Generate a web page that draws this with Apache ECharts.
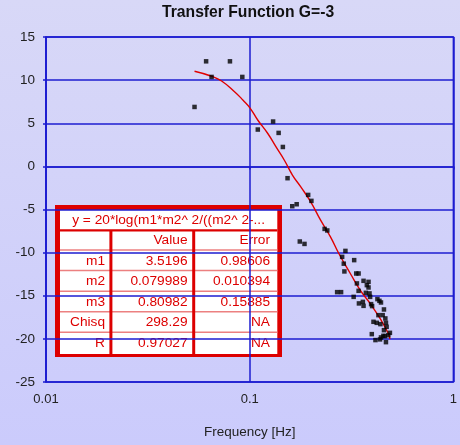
<!DOCTYPE html>
<html>
<head>
<meta charset="utf-8">
<script src="https://cdn.jsdelivr.net/npm/echarts@6/dist/echarts.min.js"></script>
<style>
  html, body { margin: 0; padding: 0; }
  #chart { width: 460px; height: 445px; }
</style>
</head>
<body>
<div id="chart"></div>
<script>
// Measured gain points: frequency in Hz, gain in dB
const measFreq = [
  0.0536, 0.0611, 0.0650, 0.0800, 0.0920, 0.1096, 0.1303, 0.1387, 0.1455, 0.1534,
  0.1618, 0.1701, 0.1762, 0.1858, 0.1937, 0.2009, 0.2333, 0.2404, 0.2951, 0.2844,
  0.3258, 0.2897, 0.2917, 0.3334, 0.3425, 0.3622, 0.3832, 0.3759, 0.3360, 0.3832,
  0.2687, 0.2810, 0.3425, 0.3718, 0.3875, 0.3239, 0.3902, 0.4237, 0.4334, 0.4411,
  0.3594, 0.3438, 0.3622, 0.3945, 0.3990, 0.4562, 0.4285, 0.4496, 0.4634, 0.4053,
  0.4204, 0.4382, 0.4666, 0.4702, 0.3976, 0.4562, 0.4880, 0.4411, 0.4614, 0.4144,
  0.4666, 0.4363, 0.4793, 0.4531
];
const measGain = [
  6.89, 12.18, 10.37, 12.18, 10.37, 4.27, 5.20, 3.88, 2.25, -1.37,
  -4.62, -4.39, -8.71, -8.99, -3.31, -4.00, -7.25, -7.43, -9.80, -10.49,
  -10.87, -11.28, -12.18, -12.42, -12.42, -13.27, -13.39, -13.77, -13.57, -14.04,
  -14.58, -14.58, -14.43, -14.66, -14.73, -15.13, -15.13, -15.39, -15.59, -15.78,
  -15.71, -15.89, -16.17, -15.97, -16.20, -16.59, -17.25, -17.25, -17.63, -18.02,
  -18.14, -18.29, -18.14, -18.60, -19.45, -18.99, -19.30, -19.83, -19.68, -20.14,
  -20.38, -20.06, -19.57, -19.65
];

// Fitted curve samples
const fitFreq = [
  0.0536, 0.0650, 0.0728, 0.0845, 0.0928, 0.1000, 0.1097, 0.1227, 0.1347, 0.1480,
  0.1624, 0.1782, 0.1993, 0.2229, 0.2492, 0.2739, 0.3119, 0.3487, 0.3902, 0.4363,
  0.4793, 0.4880
];
const fitGain = [
  11.03, 10.45, 9.90, 8.63, 7.67, 6.82, 5.35, 3.81, 2.25, 0.71,
  -1.03, -2.38, -4.12, -6.24, -8.17, -10.10, -12.42, -14.35, -15.89, -17.63,
  -19.37, -20.03
];

const xTickLabels = ['0.01', '0.1', '1'];
const titleText = 'Transfer Function G=-3';
const xAxisName = 'Frequency [Hz]';

// Fit result table
const fitFormula = 'y = 20*log(m1*m2^ 2/((m2^ 2-...';
const tableHead = ['', 'Value', 'Error'];
const paramNames = ['m1', 'm2', 'm3', 'Chisq', 'R'];
const paramValues = ['3.5196', '0.079989', '0.80982', '298.29', '0.97027'];
const paramErrors = ['0.98606', '0.010394', '0.15885', 'NA', 'NA'];

const FONT = 'Liberation Sans, Arial, sans-serif';
const BLUE = '#1c1cd0';
const RED = '#dd0000';

function buildTable() {
  const els = [];
  const x0 = 55, y0 = 205, w = 227, h = 152;
  const inX = 60, inY = 210, inW = 217.3, inH = 144;
  const colR = [105, 187.5, 270];
  const rowStep = 20.55;

  els.push({ type: 'rect', shape: { x: x0, y: y0, width: w, height: h }, style: { fill: RED } });
  els.push({ type: 'rect', shape: { x: inX, y: inY, width: inW, height: inH }, style: { fill: '#ffffff' } });
  // header separator
  els.push({ type: 'rect', shape: { x: inX, y: 229.2, width: inW, height: 2.2 }, style: { fill: RED } });
  // row separators
  for (let i = 0; i < paramNames.length; i++) {
    const y = 249.3 + i * rowStep;
    els.push({ type: 'rect', shape: { x: inX, y: y, width: inW, height: 1.5 }, style: { fill: '#ec8080' } });
  }
  // column separators
  els.push({ type: 'rect', shape: { x: 109.4, y: 231, width: 3, height: 123 }, style: { fill: RED } });
  els.push({ type: 'rect', shape: { x: 192.2, y: 231, width: 3, height: 123 }, style: { fill: RED } });

  const txt = (s, x, y, align) => ({
    type: 'text',
    style: { text: s, x: x, y: y, fill: RED, fontSize: 13.7, fontFamily: FONT, align: align, verticalAlign: 'middle' }
  });
  els.push(txt(fitFormula, 168.6, 220, 'center'));
  tableHead.forEach((s, c) => { if (s) els.push(txt(s, colR[c], 240.2, 'right')); });
  paramNames.forEach((name, r) => {
    const y = 240.2 + (r + 1) * rowStep;
    els.push(txt(name, colR[0], y, 'right'));
    els.push(txt(paramValues[r], colR[1], y, 'right'));
    els.push(txt(paramErrors[r], colR[2], y, 'right'));
  });
  return { type: 'group', z: 100, children: els };
}

const chart = echarts.init(document.getElementById('chart'), null, { renderer: 'canvas' });

const option = {
  animation: false,
  backgroundColor: {
    type: 'linear', x: 0, y: 0, x2: 0, y2: 1,
    colorStops: [{ offset: 0, color: '#d8d8f7' }, { offset: 1, color: '#cbcbfc' }]
  },
  title: {
    text: titleText,
    left: 162, top: 5, padding: 0,
    textStyle: { fontSize: 15.7, fontWeight: 'bold', fontFamily: FONT, color: '#111111' }
  },
  grid: {
    left: 46, right: 3, top: 37, bottom: 63,
    show: true, backgroundColor: 'rgba(0,0,0,0)', borderColor: BLUE, borderWidth: 1.5
  },
  xAxis: {
    type: 'log', logBase: 10, min: 0.01, max: 1,
    name: xAxisName, nameLocation: 'middle', nameGap: 43,
    nameTextStyle: { fontSize: 13.5, fontFamily: FONT, color: '#222222' },
    axisLine: { show: true, lineStyle: { color: BLUE, width: 1.5 } },
    axisTick: { show: true, length: 3, lineStyle: { color: BLUE, width: 1.5 } },
    minorTick: { show: false },
    axisLabel: {
      margin: 11, fontSize: 13, fontFamily: FONT, color: '#222222',
      formatter: v => xTickLabels[Math.round(Math.log10(v)) + 2]
    },
    splitLine: { show: true, lineStyle: { color: BLUE, width: 1.5 } }
  },
  yAxis: {
    type: 'value', min: -25, max: 15, interval: 5,
    axisLine: { show: true, lineStyle: { color: BLUE, width: 1.5 } },
    axisTick: { show: true, length: 3, lineStyle: { color: BLUE, width: 1.5 } },
    axisLabel: { margin: 11, fontSize: 13.5, fontFamily: FONT, color: '#222222' },
    splitLine: { show: true, lineStyle: { color: BLUE, width: 1.5 } }
  },
  series: [
    {
      type: 'line', name: 'fit',
      data: fitFreq.map((f, i) => [f, fitGain[i]]),
      showSymbol: false, smooth: true,
      lineStyle: { color: '#e00000', width: 1.4 },
      z: 3
    },
    {
      type: 'scatter', name: 'measured',
      data: measFreq.map((f, i) => [f, measGain[i]]),
      symbol: 'rect', symbolSize: 4.5,
      itemStyle: { color: '#000000' },
      z: 4
    }
  ],
  graphic: [buildTable()]
};

chart.setOption(option);
</script>
</body>
</html>
